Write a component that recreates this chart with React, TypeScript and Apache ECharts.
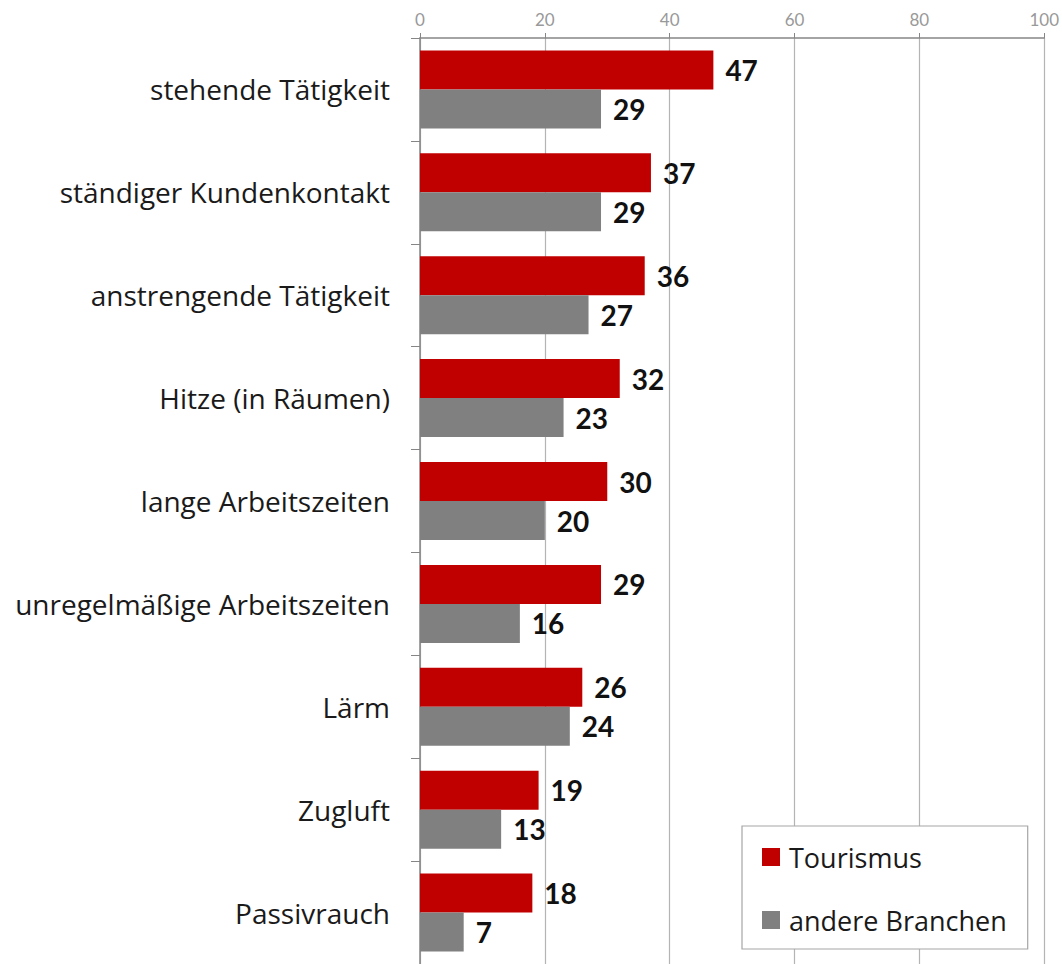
import React, { useEffect, useRef } from "react";
import * as echarts from "echarts";

const categories = [
  "stehende Tätigkeit",
  "ständiger Kundenkontakt",
  "anstrengende Tätigkeit",
  "Hitze (in Räumen)",
  "lange Arbeitszeiten",
  "unregelmäßige Arbeitszeiten",
  "Lärm",
  "Zugluft",
  "Passivrauch",
];
const tourismus = [47, 37, 36, 32, 30, 29, 26, 19, 18];
const andere = [29, 29, 27, 23, 20, 16, 24, 13, 7];
const seriesNames = ["Tourismus", "andere Branchen"];

const FONT = "'Open Sans', Lato, sans-serif";
const NUMFONT = "Lato, 'Open Sans', sans-serif";

export default function App() {
  const ref = useRef<HTMLDivElement>(null);
  useEffect(() => {
    const chart = echarts.init(ref.current!, null, { renderer: "svg" });
    const valueLabel = {
      show: true,
      position: "right",
      distance: 12,
      color: "#111",
      fontWeight: "bold",
      fontSize: 28,
      fontFamily: NUMFONT,
    };
    chart.setOption({
      animation: false,
      backgroundColor: "#fff",
      grid: { left: 420, top: 38, width: 625, height: 932 },
      xAxis: {
        type: "value",
        position: "top",
        min: 0,
        max: 100,
        interval: 20,
        axisLine: { show: true, lineStyle: { color: "#868686", width: 1.5 } },
        axisTick: { show: true, length: 5, lineStyle: { color: "#868686" } },
        axisLabel: { color: "#999999", fontSize: 17, fontFamily: NUMFONT, margin: 10 },
        splitLine: { show: true, lineStyle: { color: "#b4b4b4", width: 1.2 } },
      },
      yAxis: {
        type: "category",
        inverse: true,
        data: categories,
        axisLine: { show: true, lineStyle: { color: "#868686", width: 1.5 } },
        axisTick: { show: true, length: 9, lineStyle: { color: "#868686" } },
        axisLabel: { color: "#1a1a1a", fontSize: 28, fontFamily: FONT, margin: 30 },
      },
      legend: {
        orient: "vertical",
        left: 742,
        top: 826,
        data: seriesNames,
        backgroundColor: "#fff",
        borderColor: "#a6a6a6",
        borderWidth: 1.2,
        borderRadius: 0,
        padding: [16, 21, 14, 20],
        itemGap: 33,
        itemWidth: 18,
        itemHeight: 18,
        icon: "rect",
        textStyle: { fontSize: 27, color: "#1a1a1a", fontFamily: FONT, padding: [0, 0, 0, 4], lineHeight: 30 },
      },
      series: [
        {
          name: seriesNames[0],
          type: "bar",
          data: tourismus,
          barWidth: 39,
          barGap: "0%",
          itemStyle: { color: "#c00000" },
          label: valueLabel,
        },
        {
          name: seriesNames[1],
          type: "bar",
          data: andere,
          barWidth: 39,
          barGap: "0%",
          itemStyle: { color: "#808080" },
          label: valueLabel,
        },
      ],
    });
    return () => chart.dispose();
  }, []);
  return (
    <div
      ref={ref}
      style={{ position: "absolute", left: 0, top: 0, width: 1062, height: 964 }}
    />
  );
}
